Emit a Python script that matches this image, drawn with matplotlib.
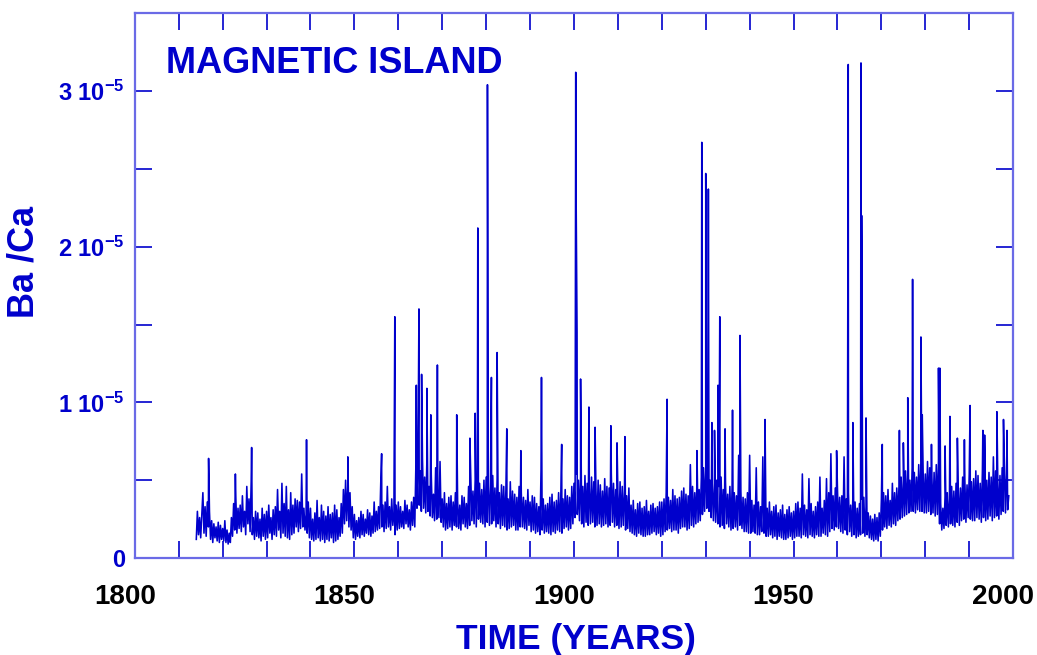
import numpy as np
import matplotlib
matplotlib.use("Agg")
import matplotlib.pyplot as plt
import matplotlib.transforms as mtransforms
from matplotlib.ticker import MultipleLocator, FuncFormatter

plt.rcParams['font.family'] = ['Liberation Sans', 'DejaVu Sans']
plt.rcParams['font.weight'] = 'bold'
plt.rcParams['mathtext.fontset'] = 'custom'
plt.rcParams['mathtext.rm'] = 'Liberation Sans:bold'
plt.rcParams['mathtext.bf'] = 'Liberation Sans:bold'
plt.rcParams['mathtext.default'] = 'bf'

BLUE = '#0000cc'

# Ba/Ca background record, 4 samples per year from 1814.0 (units of 1e-6)
start_year = 1814.0
per_year = 4
ba_ca = [
    1.2, 3.0, 1.5, 2.6, 1.3, 2.8, 4.2, 1.6, 3.3, 1.4, 3.6, 2.0, 3.0, 1.2, 2.4, 1.0, 2.2, 1.3, 2.0, 1.1,   # 1814
    2.3, 1.0, 2.1, 1.2, 1.9, 1.1, 2.4, 1.0, 1.8, 0.9, 1.6, 1.0, 2.6, 1.4, 3.5, 1.8, 3.9, 1.6, 3.2, 1.9,   # 1819
    3.4, 1.7, 4.0, 2.0, 3.0, 1.5, 4.6, 2.2, 3.8, 1.7, 4.9, 1.5, 2.6, 1.2, 3.0, 1.4, 2.9, 1.3, 2.5, 1.1,   # 1824
    3.2, 1.4, 2.8, 1.2, 3.0, 1.3, 3.4, 1.6, 2.6, 1.2, 3.1, 1.5, 3.3, 1.4, 4.4, 1.8, 3.0, 1.3, 4.8, 1.6,   # 1829
    3.5, 1.4, 4.6, 1.3, 3.1, 1.2, 4.2, 1.5, 3.4, 1.6, 3.8, 2.0, 3.7, 1.7, 3.6, 1.9, 5.4, 2.0, 3.2, 1.8,   # 1834
    2.8, 1.6, 3.6, 1.3, 3.2, 1.2, 2.5, 1.1, 2.9, 1.2, 3.7, 1.3, 2.6, 1.1, 3.4, 1.2, 3.0, 1.0, 2.7, 1.2,   # 1839
    3.3, 1.1, 2.8, 1.3, 2.9, 1.0, 3.4, 1.1, 3.1, 1.2, 2.6, 1.4, 3.5, 1.6, 4.4, 2.2, 5.0, 2.4, 4.6, 2.0,   # 1844
    4.2, 1.8, 3.3, 1.3, 2.8, 1.2, 2.4, 1.4, 2.6, 1.3, 3.0, 1.5, 2.8, 1.4, 2.5, 1.6, 3.1, 1.5, 2.9, 1.4,   # 1849
    2.7, 1.6, 3.6, 1.7, 3.0, 1.8, 3.3, 1.9, 4.8, 2.0, 3.4, 1.7, 3.6, 1.9, 4.6, 2.0, 3.3, 1.8, 3.8, 2.1,   # 1854
    2.9, 1.5, 3.4, 1.8, 3.6, 1.9, 3.3, 2.0, 3.0, 1.9, 3.7, 2.2, 3.4, 2.0, 3.1, 1.8, 3.6, 2.1, 3.9, 2.0,   # 1859
    6.0, 3.2, 6.9, 3.4, 5.6, 3.0, 6.4, 3.2, 5.2, 2.9, 6.2, 3.0, 4.6, 2.7, 5.4, 2.6, 4.1, 2.4, 5.8, 2.5,   # 1864
    4.4, 2.6, 6.2, 2.3, 3.8, 2.0, 4.2, 1.8, 3.5, 1.9, 3.9, 2.0, 4.0, 1.8, 3.6, 2.1, 4.2, 2.0, 3.7, 1.9,   # 1869
    3.4, 1.8, 4.0, 2.2, 3.9, 2.0, 3.5, 1.9, 4.6, 2.1, 5.2, 2.4, 4.3, 2.2, 5.0, 2.0, 5.4, 2.5, 4.8, 2.3,   # 1874
    4.4, 2.2, 5.0, 2.0, 5.2, 2.3, 4.6, 2.1, 4.9, 2.2, 5.3, 2.4, 4.5, 2.0, 5.1, 2.2, 4.2, 1.9, 4.7, 2.1,   # 1879
    4.6, 2.0, 4.4, 1.8, 3.8, 1.9, 4.9, 2.0, 4.3, 2.1, 4.1, 1.8, 3.9, 1.8, 4.6, 2.0, 4.2, 2.0, 3.9, 1.9,   # 1884
    3.7, 1.8, 4.4, 2.1, 3.6, 1.7, 4.0, 1.8, 3.9, 1.6, 3.5, 1.7, 3.3, 1.5, 5.7, 1.8, 3.8, 1.6, 3.4, 1.7,   # 1889
    3.5, 1.6, 3.9, 1.5, 4.1, 1.7, 3.6, 1.6, 3.7, 1.8, 4.2, 1.7, 4.0, 1.6, 3.8, 1.9, 4.4, 2.0, 4.0, 1.8,   # 1894
    3.9, 1.9, 4.6, 2.2, 4.8, 2.6, 5.4, 2.8, 5.0, 2.4, 5.2, 2.2, 4.6, 2.0, 5.3, 2.3, 4.8, 2.1, 4.5, 2.2,   # 1899
    5.2, 2.3, 4.9, 2.0, 4.4, 2.1, 5.0, 2.2, 4.7, 2.0, 4.3, 2.1, 5.1, 2.2, 4.6, 2.0, 4.5, 2.1, 5.4, 2.3,   # 1904
    4.8, 2.0, 4.4, 2.1, 4.2, 1.9, 4.9, 2.0, 4.6, 2.1, 4.3, 1.8, 4.0, 1.9, 4.5, 1.7, 3.4, 1.6, 3.7, 1.5,   # 1909
    3.1, 1.4, 3.5, 1.6, 3.6, 1.5, 3.2, 1.4, 3.3, 1.4, 3.7, 1.5, 3.0, 1.5, 3.4, 1.6, 3.5, 1.7, 3.2, 1.5,   # 1914
    3.3, 1.6, 3.6, 1.4, 3.6, 1.5, 3.8, 1.7, 4.2, 1.8, 3.9, 1.9, 3.7, 1.7, 4.4, 1.8, 4.0, 1.8, 3.8, 1.6,   # 1919
    3.9, 1.9, 4.3, 2.0, 4.5, 2.0, 4.1, 1.8, 4.0, 1.9, 6.0, 2.1, 4.6, 2.0, 4.2, 2.2, 4.9, 2.3, 4.4, 2.4,   # 1924
    5.2, 2.8, 5.8, 3.0, 5.6, 3.2, 5.4, 3.0, 5.0, 2.6, 4.8, 2.4, 4.8, 2.3, 5.0, 2.2, 4.6, 2.0, 5.2, 2.1,   # 1929
    4.4, 1.9, 4.9, 2.2, 4.1, 2.0, 4.6, 1.8, 4.5, 1.9, 4.2, 2.0, 4.0, 1.8, 6.6, 2.1, 4.3, 1.9, 3.9, 1.7,   # 1934
    3.8, 1.7, 4.2, 1.6, 6.6, 1.6, 3.7, 1.7, 3.4, 1.6, 5.8, 1.5, 3.6, 1.5, 3.3, 1.7, 6.5, 1.6, 3.5, 1.4,   # 1939
    3.2, 1.4, 3.6, 1.5, 3.0, 1.3, 3.3, 1.4, 3.4, 1.2, 2.9, 1.4, 3.1, 1.3, 3.4, 1.2, 2.8, 1.2, 3.1, 1.3,   # 1944
    3.3, 1.4, 2.9, 1.2, 3.0, 1.3, 3.5, 1.4, 3.6, 1.4, 3.2, 1.3, 5.4, 1.5, 3.4, 1.4, 3.1, 1.3, 5.1, 1.5,   # 1949
    3.5, 1.4, 3.0, 1.3, 3.3, 1.5, 3.6, 1.4, 5.2, 1.4, 3.2, 1.6, 3.7, 1.5, 5.1, 1.4, 4.2, 1.7, 6.7, 1.9,   # 1954
    4.0, 1.8, 4.5, 2.0, 4.4, 1.9, 3.9, 1.7, 4.0, 1.6, 6.5, 1.8, 3.8, 1.5, 4.2, 1.7, 3.4, 1.4, 3.9, 1.5,   # 1959
    3.6, 1.3, 3.2, 1.4, 3.5, 1.5, 3.8, 1.6, 3.9, 1.4, 3.3, 1.5, 2.9, 1.3, 2.7, 1.2, 2.5, 1.1, 2.8, 1.2,   # 1964
    2.6, 1.1, 2.9, 1.4, 3.8, 1.8, 4.2, 2.0, 4.0, 1.9, 4.4, 2.1, 3.7, 2.0, 4.8, 2.2, 4.2, 2.1, 4.5, 2.4,   # 1969
    4.6, 2.5, 5.2, 2.6, 5.0, 2.7, 5.6, 2.8, 5.4, 2.9, 5.0, 3.0, 5.8, 3.0, 5.5, 2.9, 5.2, 3.1, 6.0, 3.0,   # 1974
    6.1, 3.0, 5.6, 2.9, 5.4, 2.9, 6.2, 3.0, 5.8, 2.8, 5.2, 2.9, 5.5, 2.7, 6.0, 2.8, 6.3, 2.2, 3.5, 1.8,   # 1979
    3.2, 1.9, 4.0, 2.1, 4.2, 2.0, 3.8, 2.2, 4.6, 2.1, 4.3, 2.0, 4.8, 2.3, 4.4, 2.1, 4.5, 2.4, 5.2, 2.5,   # 1984
    5.0, 2.3, 4.7, 2.6, 5.4, 2.5, 4.9, 2.4, 5.1, 2.4, 5.6, 2.6, 5.3, 2.5, 4.8, 2.3, 5.6, 2.6, 5.2, 2.4,   # 1989
    5.0, 2.5, 5.5, 2.7, 5.2, 2.4, 6.5, 2.6, 5.6, 2.7, 5.0, 2.5, 5.3, 2.8, 5.8, 3.0, 6.0, 2.9, 5.4, 3.1,   # 1994
    4.0,                                                                                                 # 1999
]

# sharp flood-event spikes (year, units of 1e-6)
spike_years = [1816.8, 1822.9, 1826.6, 1839.1, 1848.5, 1856.2, 1859.2, 1864.1, 1864.7,
               1865.3, 1866.5, 1867.4, 1868.9, 1873.3, 1876.3, 1877.5, 1878.1, 1880.3,
               1881.2, 1882.5, 1884.7, 1887.9, 1892.6, 1897.2, 1900.4, 1900.5, 1900.7,
               1901.5, 1903.4, 1904.8, 1908.4, 1909.8, 1911.6, 1921.2, 1928.0, 1929.1,
               1930.0, 1930.6, 1931.4, 1932.0, 1932.8, 1933.2, 1934.4, 1936.1, 1937.8,
               1943.5, 1959.8, 1962.45, 1963.5, 1965.35, 1965.5, 1966.5, 1970.2, 1974.1,
               1975.0, 1976.0, 1977.1, 1979.0, 1979.3, 1981.4, 1983.0, 1983.3, 1984.5,
               1985.6, 1987.3, 1988.9, 1990.2, 1993.1, 1993.5, 1996.3, 1997.8, 1998.6]
spike_vals = [6.4, 5.4, 7.1, 7.6, 6.5, 6.7, 15.5, 11.1, 16.0,
              11.8, 10.9, 9.2, 12.4, 9.2, 7.7, 9.3, 21.2, 30.4,
              11.6, 13.2, 8.3, 6.9, 11.6, 7.3, 31.2, 22.7, 14.5,
              11.5, 9.7, 8.4, 8.5, 7.4, 7.8, 10.2, 6.9, 26.7,
              24.7, 23.7, 8.7, 8.2, 11.1, 15.5, 8.3, 9.5, 14.3,
              8.9, 6.9, 31.7, 8.7, 31.8, 22.0, 9.0, 7.3, 8.2,
              7.4, 10.3, 17.9, 14.2, 9.2, 7.3, 12.2, 12.2, 7.2,
              9.1, 7.7, 7.6, 9.8, 8.2, 7.9, 9.4, 8.9, 8.2]

base_years = start_year + np.arange(len(ba_ca)) / per_year
years = np.concatenate([base_years, spike_years])
vals = np.concatenate([ba_ca, spike_vals]) * 1e-6
order = np.argsort(years, kind='stable')
years, vals = years[order], vals[order]

fig = plt.figure(figsize=(10.37, 6.55), dpi=100)
ax = fig.add_axes([0.130, 0.148, 0.847, 0.832])

ax.plot(years, vals, color=BLUE, lw=1.15)

ax.set_xlim(1800, 2000)
ax.set_ylim(0, 3.5e-5)
ax.xaxis.set_major_locator(MultipleLocator(50))
ax.xaxis.set_minor_locator(MultipleLocator(10))
ax.yaxis.set_major_locator(MultipleLocator(1e-5))
ax.yaxis.set_minor_locator(MultipleLocator(5e-6))


def ylab(v, pos):
    n = int(round(v / 1e-5))
    if n == 0:
        return "0"
    return r"%d 10$^{-5}$" % n


ax.yaxis.set_major_formatter(FuncFormatter(ylab))

for s in ax.spines.values():
    s.set_color('#6a6ae6')
    s.set_linewidth(1.6)

ax.tick_params(which='both', direction='in', top=True, right=True,
               length=12, width=1.2, color=BLUE)
ax.tick_params(axis='x', labelsize=20, labelcolor='black', pad=19)
ax.tick_params(axis='y', labelsize=17, labelcolor=BLUE, pad=7)

# x labels sit a little left of their ticks in the original
shift = mtransforms.ScaledTranslation(-10 / 100, 0, fig.dpi_scale_trans)
for lab in ax.get_xticklabels():
    lab.set_fontweight('bold')
    lab.set_transform(lab.get_transform() + shift)
for lab in ax.get_yticklabels():
    lab.set_fontweight('bold')

ax.set_xlabel("TIME (YEARS)", fontsize=25.5, color=BLUE, fontweight='bold')
ax.xaxis.set_label_coords(0.502, -0.119)
ax.set_ylabel("Ba /Ca", fontsize=26, color=BLUE, fontweight='bold')
ax.yaxis.set_label_coords(-0.106, 0.543)
ax.text(0.036, 0.890, "MAGNETIC ISLAND", transform=ax.transAxes, fontsize=26,
        color=BLUE, fontweight='bold', va='baseline', ha='left')

fig.savefig("out.png", dpi=100)
